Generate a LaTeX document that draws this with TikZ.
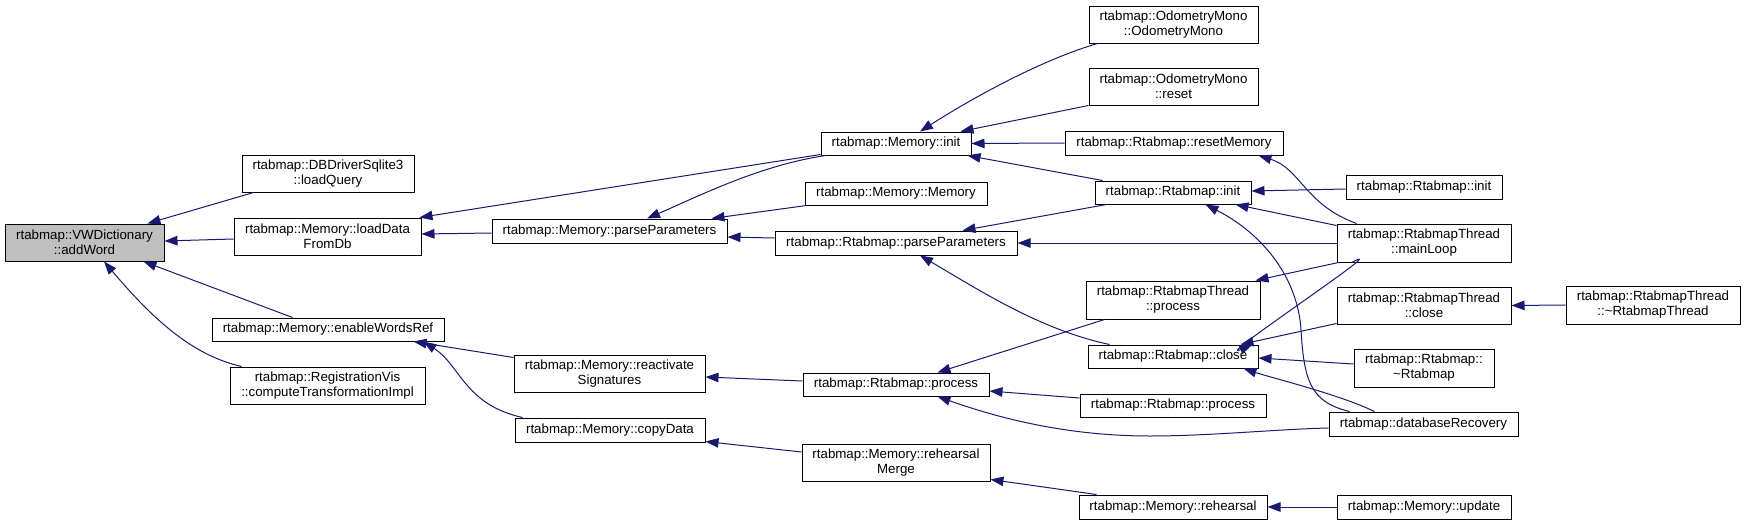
\documentclass[tikz,border=0pt]{standalone}
\usepackage{fontspec}
\setmainfont{Liberation Sans}
\usetikzlibrary{arrows.meta}
\definecolor{edgecol}{RGB}{25,25,112}
\definecolor{rootfill}{RGB}{191,191,191}
\begin{document}
\begin{tikzpicture}[x=1pt,y=-1pt,
  box/.style={draw=black, line width=1pt, fill=white, rectangle, inner sep=0pt, align=center,
    font=\fontsize{13.3}{15}\selectfont},
  root/.style={box, fill=rootfill},
  edge/.style={draw=edgecol, line width=1pt, {Triangle[length=13pt,width=9.5pt]}-}]
\useasboundingbox (0,0) rectangle (1746,525);
% rank 0
\node[root, minimum width=159pt, minimum height=37pt] (addWord) at (84.5,242.5) {rtabmap::VWDictionary\\::addWord};
% rank 1
\node[box, minimum width=172pt, minimum height=37pt] (loadQuery) at (328,173.5) {rtabmap::DBDriverSqlite3\\::loadQuery};
\node[box, minimum width=187pt, minimum height=37pt] (loadData) at (327.5,236.5) {rtabmap::Memory::loadData\\FromDb};
\node[box, minimum width=232pt, minimum height=23pt] (enableWordsRef) at (328,329.5) {rtabmap::Memory::enableWordsRef};
\node[box, minimum width=195pt, minimum height=37pt] (regVis) at (327.5,385.5) {rtabmap::RegistrationVis\\::computeTransformationImpl};
% rank 2
\node[box, minimum width=235pt, minimum height=24pt] (memParse) at (609.5,231) {rtabmap::Memory::parseParameters};
\node[box, minimum width=191pt, minimum height=37pt] (reactivate) at (609.5,373.5) {rtabmap::Memory::reactivate\\Signatures};
\node[box, minimum width=190pt, minimum height=24pt] (copyData) at (610,430) {rtabmap::Memory::copyData};
% rank 3
\node[box, minimum width=150pt, minimum height=23pt] (memInit) at (896,143.5) {rtabmap::Memory::init};
\node[box, minimum width=182pt, minimum height=23pt] (memMemory) at (896,193.5) {rtabmap::Memory::Memory};
\node[box, minimum width=242pt, minimum height=24pt] (rtParse) at (896,243) {rtabmap::Rtabmap::parseParameters};
\node[box, minimum width=186pt, minimum height=23pt] (rtProcess) at (896,384.5) {rtabmap::Rtabmap::process};
\node[box, minimum width=188pt, minimum height=37pt] (rehMerge) at (896,462.5) {rtabmap::Memory::rehearsal\\Merge};
% rank 4
\node[box, minimum width=169pt, minimum height=37pt] (odoMono) at (1173.5,24.5) {rtabmap::OdometryMono\\::OdometryMono};
\node[box, minimum width=169pt, minimum height=37pt] (odoReset) at (1173.5,86.5) {rtabmap::OdometryMono\\::reset};
\node[box, minimum width=218pt, minimum height=24pt] (resetMem) at (1174,143) {rtabmap::Rtabmap::resetMemory};
\node[box, minimum width=156pt, minimum height=23pt] (rtInit) at (1173,192.5) {rtabmap::Rtabmap::init};
\node[box, minimum width=174pt, minimum height=38pt] (rtThProcess) at (1173,300) {rtabmap::RtabmapThread\\::process};
\node[box, minimum width=170pt, minimum height=23pt] (rtClose) at (1173,356.5) {rtabmap::Rtabmap::close};
\node[box, minimum width=186pt, minimum height=23pt] (rtProcess2) at (1173,405.5) {rtabmap::Rtabmap::process};
\node[box, minimum width=188pt, minimum height=24pt] (rehearsal) at (1173,507) {rtabmap::Memory::rehearsal};
% rank 5
\node[box, minimum width=156pt, minimum height=24pt] (rtInit2) at (1424,187) {rtabmap::Rtabmap::init};
\node[box, minimum width=174pt, minimum height=38pt] (mainLoop) at (1424,243) {rtabmap::RtabmapThread\\::mainLoop};
\node[box, minimum width=174pt, minimum height=37pt] (thClose) at (1424,305.5) {rtabmap::RtabmapThread\\::close};
\node[box, minimum width=140pt, minimum height=38pt] (dtor) at (1424,368) {rtabmap::Rtabmap::\\\textasciitilde Rtabmap};
\node[box, minimum width=189pt, minimum height=24pt] (dbRecovery) at (1423.5,424) {rtabmap::databaseRecovery};
\node[box, minimum width=174pt, minimum height=24pt] (update) at (1424,507) {rtabmap::Memory::update};
% rank 6
\node[box, minimum width=174pt, minimum height=38pt] (thDtor) at (1653,305) {rtabmap::RtabmapThread\\::\textasciitilde RtabmapThread};

% edges (arrowhead at the called function)
\draw[edge] ([shift={(-17,0)}]addWord.north east) -- ([shift={(12,0)}]loadQuery.south west);
\draw[edge] ([shift={(0,-1.5)}]addWord.east) -- ([shift={(0,2.5)}]loadData.west);
\draw[edge] ([shift={(-21,0)}]addWord.south east) -- ([shift={(81,0)}]enableWordsRef.north west);
\draw[edge] ([shift={(19.5,0)}]addWord.south) .. controls +(46,54) and +(-52,-12) .. ([shift={(12,0)}]regVis.north west);
\draw[edge] ([shift={(-2,0)}]loadData.north east) -- ([shift={(0,-1)}]memInit.south west);
\draw[edge] ([shift={(0,-2.5)}]loadData.east) -- ([shift={(0,2)}]memParse.west);
\draw[edge] ([shift={(37.5,0)}]memParse.north) .. controls +(53,-23) and +(-66,10) .. ([shift={(5,0)}]memInit.south west);
\draw[edge] ([shift={(-16,0)}]memParse.north east) -- ([shift={(2,0)}]memMemory.south west);
\draw[edge] ([shift={(0,6)}]memParse.east) -- ([shift={(0,-5)}]rtParse.west);
\draw[edge] ([shift={(24,0)}]memInit.north) .. controls +(50,-32) and +(-58,17) .. ([shift={(9,0)}]odoMono.south west);
\draw[edge] ([shift={(-11,0)}]memInit.north east) -- (odoReset.south west);
\draw[edge] (memInit.east) -- (resetMem.west);
\draw[edge] ([shift={(-4,0)}]memInit.south east) -- ([shift={(8,0)}]rtInit.north west);
\draw[edge] ([shift={(-55,0)}]rtParse.north east) -- ([shift={(12,0)}]rtInit.south west);
\draw[edge] (rtParse.east) -- (mainLoop.west);
\draw[edge] ([shift={(24,0)}]rtParse.south) .. controls +(60,35) and +(-70,-15) .. ([shift={(22,0)}]rtClose.north west);
\draw[edge] ([shift={(0,-1.5)}]rtInit.east) -- ([shift={(0,2)}]rtInit2.west);
\draw[edge] ([shift={(-16,0)}]rtInit.south east) -- ([shift={(0,2)}]mainLoop.north west);
\draw[edge] ([shift={(-46,0)}]rtInit.south east) .. controls (1265,235) and (1298,280) .. (1301,330)
  .. controls (1304,380) and (1310,402) .. ([shift={(21,0)}]dbRecovery.north west);
\draw[edge] ([shift={(-25,0)}]resetMem.south east) .. controls +(42,13) and +(-52,-19) .. ([shift={(20,0)}]mainLoop.north west);
\draw[edge] ([shift={(-5,0)}]rtThProcess.north east) -- ([shift={(2,0)}]mainLoop.south west);
\draw[edge] ([shift={(-6,0)}]rtClose.north east) .. controls +(-42,18) and +(48,-25) .. ([shift={(15,0)}]mainLoop.south west);
\draw[edge] ([shift={(-18,0)}]rtClose.north east) -- ([shift={(0,-1)}]thClose.south west);
\draw[edge] ([shift={(0,1.5)}]rtClose.east) -- ([shift={(0,-4)}]dtor.west);
\draw[edge] ([shift={(-15,0)}]rtClose.south east) .. controls +(27,9) and +(-35,-17) .. ([shift={(46,0)}]dbRecovery.north west);
\draw[edge] (thClose.east) -- (thDtor.west);
\draw[edge] ([shift={(-31,0)}]enableWordsRef.south east) -- ([shift={(0,3)}]reactivate.north west);
\draw[edge] ([shift={(-21,0)}]enableWordsRef.south east) .. controls +(37,24) and +(-58,-13) .. ([shift={(8,0)}]copyData.north west);
\draw[edge] ([shift={(0,3.5)}]reactivate.east) -- ([shift={(0,-3.5)}]rtProcess.west);
\draw[edge] ([shift={(-52,0)}]rtProcess.north east) -- ([shift={(19,0)}]rtThProcess.south west);
\draw[edge] ([shift={(0,6.5)}]rtProcess.east) -- ([shift={(0,-7.5)}]rtProcess2.west);
\draw[edge] ([shift={(-52,0)}]rtProcess.south east) .. controls (990,415) and (1060,436) .. (1150,436)
  .. controls (1210,436) and (1280,429) .. ([shift={(0,4)}]dbRecovery.west);
\draw[edge] ([shift={(0,-1)}]copyData.south east) -- ([shift={(0,-10.5)}]rehMerge.west);
\draw[edge] ([shift={(0,-2)}]rehMerge.south east) -- ([shift={(18,0)}]rehearsal.north west);
\draw[edge] (rehearsal.east) -- (update.west);
\end{tikzpicture}
\end{document}
